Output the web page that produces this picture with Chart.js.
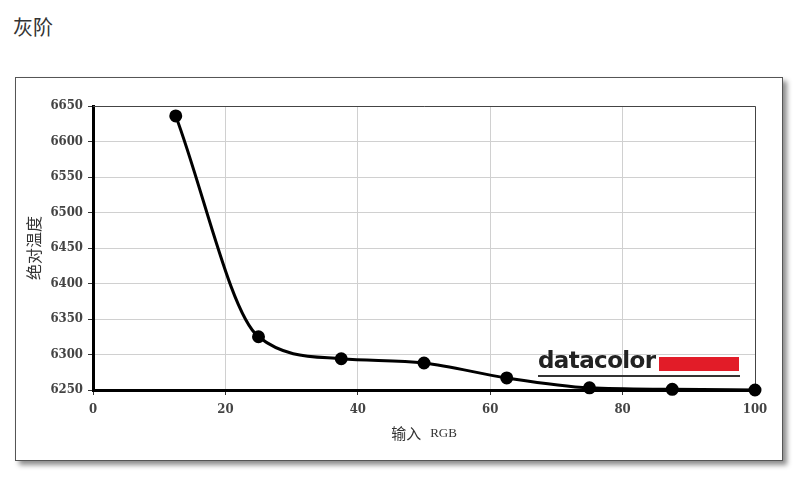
<!DOCTYPE html>
<html>
<head>
<meta charset="utf-8">
<script src="https://cdn.jsdelivr.net/npm/chart.js@4.4.1/dist/chart.umd.min.js"></script>
<style>
  html, body { margin: 0; padding: 0; background: #fff; }
  body { width: 800px; height: 481px; position: relative; overflow: hidden; }
  #title {
    position: absolute; left: 13px; top: 12px;
    font: 20px "Noto Sans CJK SC", sans-serif; color: #333;
  }
  #box {
    position: absolute; left: 15px; top: 77px; width: 766px; height: 382px;
    border: 1px solid #555; background: #fff;
    box-shadow: 4px 4px 5px rgba(0,0,0,0.45);
  }
  #wrap { position: absolute; left: 0; top: 0; width: 800px; height: 481px; }
  #logo {
    position: absolute; left: 538px; top: 343px; width: 202px; height: 32px;
    border-bottom: 2px solid #333;
  }
  #logo span {
    position: absolute; left: 0; bottom: 1px;
    font: bold 23px "DejaVu Sans", sans-serif; color: #222; letter-spacing: -0.6px;
    line-height: 28px;
  }
  #logo i {
    position: absolute; left: 121px; top: 14px; width: 80px; height: 14px;
    background: #e21c28;
  }
</style>
</head>
<body>
<div id="title">灰阶</div>
<div id="box"></div>
<div id="wrap"><canvas id="chart" width="800" height="481"></canvas></div>
<div id="logo"><span>datacolor</span><i></i></div>
<script>
const inputRGB = [12.5, 25, 37.5, 50, 62.5, 75, 87.5, 100];
const colorTemp = [6636, 6325, 6294, 6288, 6267, 6253, 6251, 6250];
const xTicks = [0, 20, 40, 60, 80, 100];
const yTicks = [6250, 6300, 6350, 6400, 6450, 6500, 6550, 6600, 6650];

const tickFont = { family: "'DejaVu Serif Condensed', 'DejaVu Serif', serif", size: 13, weight: "bold" };

const frame = {
  id: "frame",
  beforeDatasetsDraw(chart) {
    const { ctx, chartArea: a } = chart;
    ctx.save();
    ctx.strokeStyle = "#444";
    ctx.lineWidth = 1;
    ctx.beginPath();
    ctx.moveTo(a.left, a.top + 0.5);
    ctx.lineTo(a.right + 0.5, a.top + 0.5);
    ctx.lineTo(a.right + 0.5, a.bottom);
    ctx.stroke();
    ctx.restore();
  }
};

// x axis title mixes a CJK sans and a serif, so draw it by hand
const xTitle = {
  id: "xTitle",
  afterDraw(chart) {
    const { ctx, chartArea: a } = chart;
    const cx = (a.left + a.right) / 2, y = 433;
    ctx.save();
    ctx.fillStyle = "#333";
    ctx.textBaseline = "middle";
    ctx.font = "15px 'Noto Sans CJK SC', sans-serif";
    const w1 = ctx.measureText("输入").width;
    ctx.font = "13px 'Liberation Serif', serif";
    const w2 = ctx.measureText("RGB").width;
    const gap = 9;
    let x = cx - (w1 + gap + w2) / 2;
    ctx.font = "15px 'Noto Sans CJK SC', sans-serif";
    ctx.fillText("输入", x, y);
    ctx.font = "13px 'Liberation Serif', serif";
    ctx.fillText("RGB", x + w1 + gap, y + 1);
    ctx.restore();
  }
};

new Chart(document.getElementById("chart"), {
  type: "line",
  data: {
    datasets: [{
      data: inputRGB.map((x, i) => ({ x: x, y: colorTemp[i] })),
      borderColor: "#000",
      backgroundColor: "#000",
      borderWidth: 3,
      pointRadius: 5,
      pointHoverRadius: 5,
      cubicInterpolationMode: "monotone",
      clip: false
    }]
  },
  options: {
    responsive: false,
    animation: false,
    events: [],
    layout: { padding: { left: 0, top: 106, right: 45, bottom: 0 } },
    plugins: { legend: { display: false }, tooltip: { enabled: false } },
    scales: {
      x: {
        type: "linear",
        min: 0, max: 100,
        afterBuildTicks: s => { s.ticks = xTicks.map(v => ({ value: v })); },
        afterFit: s => { s.height = 91; },
        grid: { color: "#d0d0d0", tickColor: "#333", tickLength: 5, lineWidth: 1 },
        border: { color: "#000", width: 3 },
        ticks: { font: tickFont, color: "#444", padding: 7, maxRotation: 0, callback: v => String(v) }
      },
      y: {
        min: 6250, max: 6650,
        afterBuildTicks: s => { s.ticks = yTicks.map(v => ({ value: v })); },
        afterFit: s => { s.width = 93; },
        grid: { color: "#d0d0d0", tickColor: "#333", tickLength: 5, lineWidth: 1 },
        border: { color: "#000", width: 3 },
        ticks: { font: tickFont, color: "#444", padding: 5, callback: v => String(v) },
        title: {
          display: true, text: "绝对温度", color: "#333",
          font: { family: "'Noto Sans CJK SC', sans-serif", size: 16 },
          padding: { top: 24, bottom: 0 }
        }
      }
    }
  },
  plugins: [frame, xTitle]
});
</script>
</body>
</html>
